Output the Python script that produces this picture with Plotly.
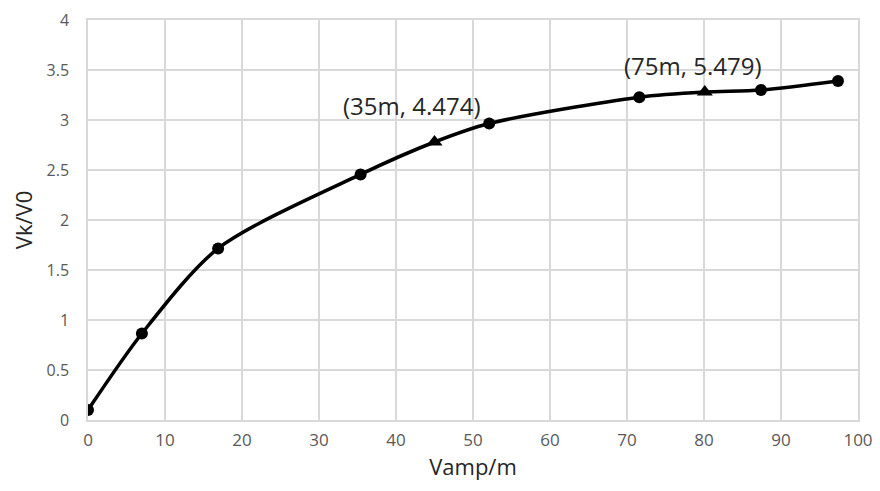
import plotly.graph_objects as go

# Data
x_all = [0, 7.0, 16.9, 35.4, 45.0, 52.1, 71.6, 80.1, 87.4, 97.4]
y_all = [0.10, 0.865, 1.716, 2.456, 2.78, 2.965, 3.228, 3.28, 3.30, 3.39]
x_circle = [0, 7.0, 16.9, 35.4, 52.1, 71.6, 87.4, 97.4]
y_circle = [0.10, 0.865, 1.716, 2.456, 2.965, 3.228, 3.30, 3.39]
x_tri = [45.0, 80.1]
y_tri = [2.78, 3.28]
labels = ["(35m, 4.474)", "(75m, 5.479)"]
label_x = [42.0, 78.5]
label_y = [3.15, 3.55]

fig = go.Figure()
fig.add_trace(go.Scatter(x=x_all, y=y_all, mode="lines",
                         line=dict(color="black", width=3.5, shape="spline", smoothing=0.8),
                         showlegend=False, hoverinfo="skip"))
fig.add_trace(go.Scatter(x=x_circle, y=y_circle, mode="markers",
                         marker=dict(symbol="circle", size=12, color="black"),
                         showlegend=False))
fig.add_trace(go.Scatter(x=x_tri, y=y_tri, mode="markers",
                         marker=dict(symbol="triangle-up", size=14, color="black"),
                         showlegend=False))

for t, lx, ly in zip(labels, label_x, label_y):
    fig.add_annotation(x=lx, y=ly, text=t, showarrow=False,
                       font=dict(family="Open Sans", size=24, color="#262626"))

grid = "#d9d9d9"
fig.update_layout(
    width=880, height=491,
    margin=dict(l=80, r=30, t=12, b=79),
    plot_bgcolor="white", paper_bgcolor="white",
    font=dict(family="Open Sans", color="#595959"),
    xaxis=dict(range=[0, 100], dtick=10, showgrid=True, gridcolor=grid, gridwidth=1.5,
               zeroline=False, showline=True, linecolor=grid, linewidth=1.5, mirror=True,
               ticks="", ticklabelstandoff=4, automargin=False, ticklabeloverflow="allow",
               tickfont=dict(size=17, color="#595959"),
               title=dict(text="Vamp/m", font=dict(size=22, color="#262626"), standoff=8)),
    yaxis=dict(range=[0, 4], dtick=0.5, showgrid=True, gridcolor=grid, gridwidth=1.5,
               zeroline=False, showline=True, linecolor=grid, linewidth=1.5, mirror=True,
               ticks="", ticklabelstandoff=14, automargin=False, ticklabeloverflow="allow",
               tickfont=dict(size=16, color="#595959"),
               title=dict(text="Vk/V0", font=dict(size=22, color="#262626"), standoff=12)),
)

fig.write_html("out.html")
